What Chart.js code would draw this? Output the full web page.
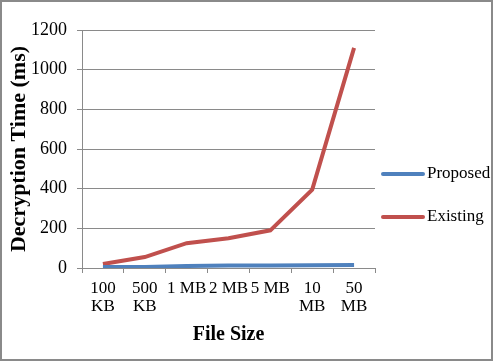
<!DOCTYPE html>
<html><head><meta charset="utf-8">
<script src="https://cdn.jsdelivr.net/npm/chart.js@4/dist/chart.umd.min.js"></script>
<style>html,body{margin:0;padding:0;background:#fff}#wrap{width:493px;height:361px;position:relative}</style>
</head><body><div id="wrap"><canvas id="c" width="493" height="361"></canvas></div>
<script>
const categories = [["100","KB"],["500","KB"],"1 MB","2 MB","5 MB",["10","MB"],["50","MB"]];
const proposed = [5, 5, 10, 12, 12, 14, 15];
const existing = [20, 55, 125, 150, 190, 395, 1110];
const yTicks = [0, 200, 400, 600, 800, 1000, 1200];
const seriesNames = ["Proposed", "Existing"];

const FONT = "'Liberation Serif', 'Times New Roman', serif";
const legendPlugin = {
  id: 'customLegend',
  afterDraw(chart) {
    const ctx = chart.ctx;
    ctx.save();
    const ys = [174, 217];
    chart.data.datasets.forEach((ds, i) => {
      ctx.strokeStyle = ds.borderColor;
      ctx.lineWidth = 4;
      ctx.lineCap = 'round';
      ctx.beginPath(); ctx.moveTo(383, ys[i]); ctx.lineTo(423, ys[i]); ctx.stroke();
      ctx.fillStyle = '#000';
      ctx.font = "17px " + FONT;
      ctx.textBaseline = 'middle';
      ctx.fillText(ds.label, 427, ys[i]);
    });
    ctx.strokeStyle = '#8a8a8a';
    ctx.lineWidth = 2;
    ctx.strokeRect(1, 1, 491, 359);
    ctx.restore();
  }
};

new Chart(document.getElementById('c'), {
  type: 'line',
  data: {
    labels: categories,
    datasets: [
      {label: seriesNames[0], data: proposed, borderColor: '#4f81bd', backgroundColor: '#4f81bd', borderWidth: 4, pointRadius: 0, tension: 0},
      {label: seriesNames[1], data: existing, borderColor: '#c0504d', backgroundColor: '#c0504d', borderWidth: 4, pointRadius: 0, tension: 0}
    ]
  },
  options: {
    responsive: false,
    animation: false,
    layout: {padding: {top: 30, right: 118, bottom: 0, left: 0}},
    plugins: {legend: {display: false}, tooltip: {enabled: false}},
    scales: {
      x: {
        offset: true,
        afterFit(s) { s.height = 93; },
        grid: {display: true, drawOnChartArea: false, drawTicks: true, tickLength: 5, offset: true, color: '#8a8a8a'},
        border: {display: true, color: '#8a8a8a', width: 1},
        ticks: {color: '#000', font: {family: FONT, size: 17, lineHeight: 1.05}, maxRotation: 0, autoSkip: false, padding: 7},
        title: {display: true, text: 'File Size', color: '#000', font: {family: FONT, size: 20, weight: 'bold'}, padding: {top: 0, bottom: 14}}
      },
      y: {
        min: 0, max: 1200,
        afterBuildTicks(s) { s.ticks = yTicks.map(v => ({value: v})); },
        afterFit(s) { s.width = 82; },
        grid: {color: '#8a8a8a', tickLength: 5, drawTicks: true},
        border: {display: true, color: '#8a8a8a'},
        ticks: {color: '#000', font: {family: FONT, size: 18}, padding: 10, callback: v => String(v)},
        title: {display: true, text: 'Decryption Time (ms)', color: '#000', font: {family: FONT, size: 22, weight: 'bold'}, padding: {top: 6, bottom: 0}}
      }
    }
  },
  plugins: [legendPlugin]
});
</script></body></html>
